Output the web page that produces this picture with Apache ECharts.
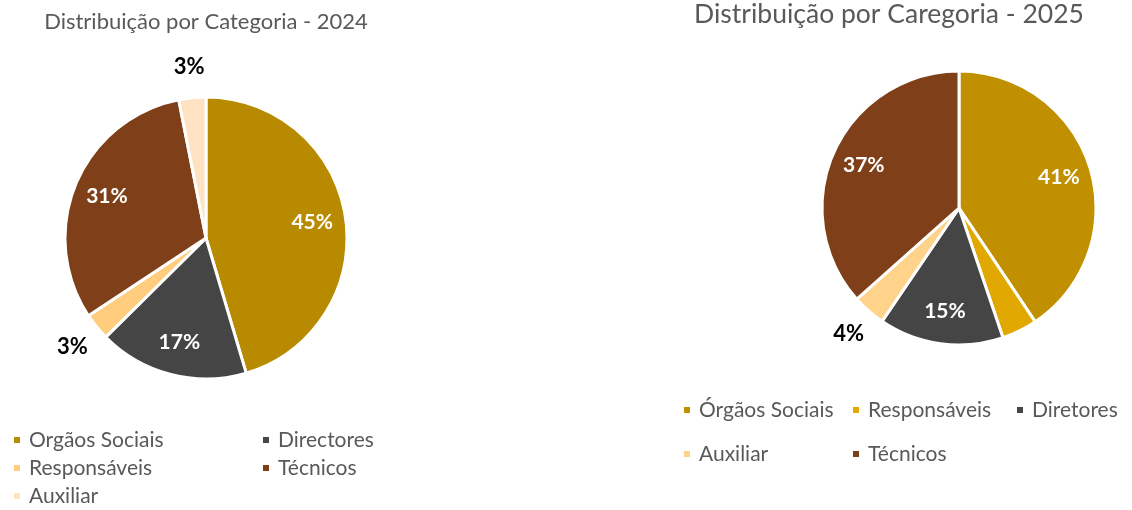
<!DOCTYPE html>
<html>
<head>
<meta charset="utf-8">
<script src="https://cdn.jsdelivr.net/npm/echarts@6/dist/echarts.min.js"></script>
<style>
html,body{margin:0;padding:0;background:#fff;}
#chart2024{position:absolute;left:0;top:0;width:566px;height:510px;}
#chart2025{position:absolute;left:566px;top:0;width:566px;height:510px;}
</style>
</head>
<body>
<div id="chart2024"></div>
<div id="chart2025"></div>
<script>
// 2024
var names2024 = ['Orgãos Sociais', 'Directores', 'Responsáveis', 'Técnicos', 'Auxiliar'];
var values2024 = [45.4, 17.2, 3.1, 31.2, 3.1];
var colors2024 = ['#B88A00', '#454545', '#FFCD7D', '#7F3F18', '#FFE2C2'];
var legendCols2024 = [['Orgãos Sociais', 'Responsáveis', 'Auxiliar'], ['Directores', 'Técnicos']];

// 2025
var names2025 = ['Órgãos Sociais', 'Responsáveis', 'Diretores', 'Auxiliar', 'Técnicos'];
var values2025 = [40.6, 4.2, 14.7, 3.9, 36.6];
var colors2025 = ['#C09000', '#E0A800', '#454545', '#FFD38A', '#7F3F18'];
var legendCols2025 = [['Órgãos Sociais', 'Auxiliar'], ['Responsáveis', 'Técnicos'], ['Diretores']];
var semRotulo2025 = ['Responsáveis'];   // rotulo apagado no original

var FONT = 'Lato';

function pctFmt(p) {
    return Math.round(p.percent) + '%';
}

//monta a opção de uma pizza
function pieOption(cfg) {
    var total = cfg.values.reduce(function(a, b) { return a + b; }, 0);
    function isBig(v) { return v / total >= 0.1; }

    var mainData = cfg.names.map(function(n, i) {
        return { name: n, value: cfg.values[i], itemStyle: { color: cfg.colors[i] } };
    });
    var innerData = cfg.names.map(function(n, i) {
        return { name: n, value: cfg.values[i], label: { show: isBig(cfg.values[i]) } };
    });
    var outerData = cfg.names.map(function(n, i) {
        var show = !isBig(cfg.values[i]) && cfg.hidden.indexOf(n) < 0;
        return { name: n, value: cfg.values[i], label: { show: show } };
    });

    var legends = cfg.legendCols.map(function(col, k) {
        return {
            orient: 'vertical',
            left: cfg.legendLeft[k],
            top: cfg.legendTop,
            padding: 0,
            itemGap: cfg.legendGap,
            itemWidth: 8,
            itemHeight: 8,
            icon: 'rect',
            selectedMode: false,
            data: col,
            textStyle: {
                fontFamily: FONT,
                fontSize: 21,
                lineHeight: 22,
                color: '#595959',
                padding: [0, 0, 0, 3]
            }
        };
    });

    var ring = {
        type: 'pie',
        silent: true,
        center: cfg.center,
        startAngle: 90,
        itemStyle: { color: 'transparent', borderWidth: 0 },
        labelLine: { show: false },
        emphasis: { disabled: true }
    };

    return {
        animation: false,
        graphic: [{
            type: 'text',
            x: cfg.titleX,
            y: cfg.titleY,
            style: {
                text: cfg.title,
                font: cfg.titleSize + 'px ' + FONT,
                fill: '#595959',
                textAlign: 'center',
                textVerticalAlign: 'middle'
            }
        }],
        legend: legends,
        series: [{
            type: 'pie',
            center: cfg.center,
            radius: cfg.r,
            startAngle: 90,
            itemStyle: { borderColor: '#fff', borderWidth: 3 },
            label: { show: false },
            labelLine: { show: false },
            emphasis: { disabled: true },
            data: mainData
        }, echarts.util.merge({
            radius: [cfg.r * 0.48, cfg.r],
            label: {
                position: 'inside',
                formatter: pctFmt,
                color: '#fff',
                fontFamily: FONT,
                fontWeight: 'bold',
                fontSize: 21
            },
            data: innerData
        }, ring, false), echarts.util.merge({
            radius: [cfg.r, cfg.r * 1.4],
            label: {
                position: 'inside',
                formatter: pctFmt,
                color: '#000',
                fontFamily: FONT,
                fontWeight: 'bold',
                fontSize: 22
            },
            data: outerData
        }, ring, false)]
    };
}

var chart2024 = echarts.init(document.getElementById('chart2024'));
chart2024.setOption(pieOption({
    title: 'Distribuição por Categoria - 2024',
    titleX: 206, titleY: 22, titleSize: 22,
    names: names2024, values: values2024, colors: colors2024,
    hidden: [],
    center: [206, 238], r: 141,
    legendCols: legendCols2024, legendLeft: [12, 261], legendTop: 429, legendGap: 6
}));

var chart2025 = echarts.init(document.getElementById('chart2025'));
chart2025.setOption(pieOption({
    title: 'Distribuição por Caregoria - 2025',
    titleX: 323, titleY: 14, titleSize: 26.5,
    names: names2025, values: values2025, colors: colors2025,
    hidden: semRotulo2025,
    center: [393, 208], r: 137,
    legendCols: legendCols2025, legendLeft: [116, 285, 449], legendTop: 399, legendGap: 22
}));
</script>
</body>
</html>
